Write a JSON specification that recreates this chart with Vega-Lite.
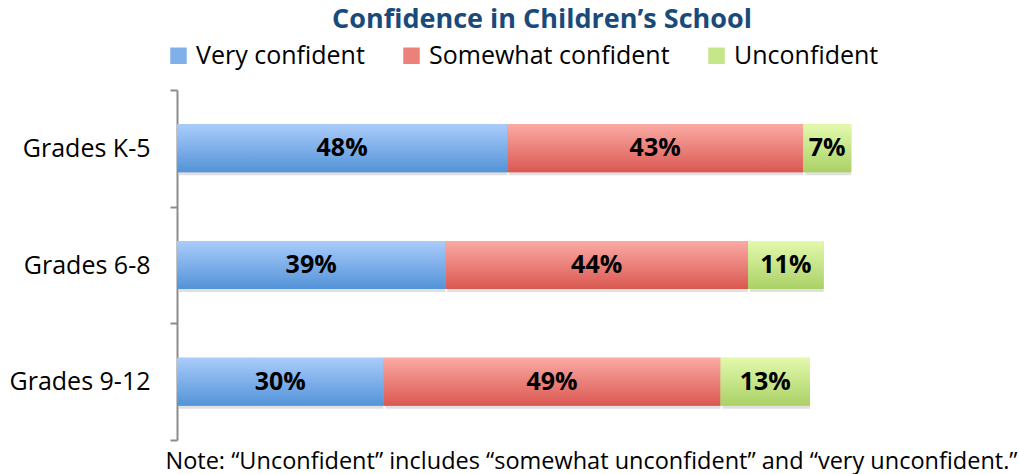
{
  "$schema": "https://vega.github.io/schema/vega-lite/v6.json",
  "width": 688,
  "height": 350,
  "autosize": {"type": "none"},
  "padding": {"left": 177, "top": 90, "right": 154, "bottom": 34},
  "config": {"font": "Open Sans", "view": {"stroke": null}},
  "title": {"text": "Confidence in Children’s School", "fontSize": 27, "fontWeight": "bold", "color": "#1A4A7A", "anchor": "middle", "dx": 21, "frame": "group", "offset": 9},
  "data": {"values": [
    {"grade": "Grades K-5", "category": "Very confident", "value": 48},
    {"grade": "Grades K-5", "category": "Somewhat confident", "value": 43},
    {"grade": "Grades K-5", "category": "Unconfident", "value": 7},
    {"grade": "Grades 6-8", "category": "Very confident", "value": 39},
    {"grade": "Grades 6-8", "category": "Somewhat confident", "value": 44},
    {"grade": "Grades 6-8", "category": "Unconfident", "value": 11},
    {"grade": "Grades 9-12", "category": "Very confident", "value": 30},
    {"grade": "Grades 9-12", "category": "Somewhat confident", "value": 49},
    {"grade": "Grades 9-12", "category": "Unconfident", "value": 13}
  ]},
  "transform": [
    {"calculate": "indexof(['Very confident','Somewhat confident','Unconfident'], datum.category)", "as": "ord"},
    {"stack": "value", "groupby": ["grade"], "sort": [{"field": "ord", "order": "ascending"}], "as": ["v0", "v1"]},
    {"calculate": "(datum.v0 + datum.v1) / 2", "as": "mid"},
    {"calculate": "datum.value + '%'", "as": "label"}
  ],
  "encoding": {
    "y": {"field": "grade", "type": "nominal", "sort": ["Grades K-5", "Grades 6-8", "Grades 9-12"],
      "scale": {"paddingInner": 0, "paddingOuter": 0},
      "axis": {"title": null, "labelFontSize": 25, "labelColor": "#000", "labelPadding": 20, "domainColor": "#8c8c8c", "domainWidth": 2, "tickColor": "#8c8c8c", "tickWidth": 2, "tickSize": 7, "tickBand": "extent"}}
  },
  "layer": [
    {
      "mark": {"type": "bar", "color": "#000", "opacity": 0.12, "yOffset": 3, "xOffset": 2, "height": {"band": 0.411}},
      "encoding": {
        "x": {"field": "v0", "type": "quantitative", "scale": {"domain": [0, 100]}},
        "x2": {"field": "v1"}
      }
    },
    {
      "mark": {"type": "bar", "height": {"band": 0.411}},
      "encoding": {
        "x": {"field": "v0", "type": "quantitative", "scale": {"domain": [0, 100]},
          "axis": {"labels": false, "ticks": false, "domain": false, "grid": false,
            "title": "Note: “Unconfident” includes “somewhat unconfident” and “very unconfident.”",
            "titleFontSize": 23.5, "titleFontWeight": "normal", "titleColor": "#000", "titleAlign": "center", "titleX": 414, "titleY": 28, "titleBaseline": "alphabetic"}},
        "x2": {"field": "v1"},
        "color": {"field": "category", "type": "nominal",
          "scale": {"domain": ["Very confident", "Somewhat confident", "Unconfident"],
            "range": ["#7FB0EA", "#EC817B", "#C6E68A"]},
          "legend": {"orient": "none", "legendX": -11, "legendY": -47, "direction": "horizontal", "title": null,
            "symbolType": "square", "symbolSize": 272, "symbolStrokeWidth": 0, "symbolOpacity": 1, "labelFontSize": 25, "labelColor": "#000", "labelOffset": 5, "labelLimit": 400, "columnPadding": 34,
            "encode": {"symbols": {"update": {"fill": {"signal": "datum.value === 'Very confident' ? {gradient: 'linear', x1: 0, y1: 0, x2: 0, y2: 1, stops: [{offset: 0, color: '#AACCFB'}, {offset: 1, color: '#5393D8'}]} : datum.value === 'Somewhat confident' ? {gradient: 'linear', x1: 0, y1: 0, x2: 0, y2: 1, stops: [{offset: 0, color: '#FBAAA4'}, {offset: 1, color: '#DA5851'}]} : {gradient: 'linear', x1: 0, y1: 0, x2: 0, y2: 1, stops: [{offset: 0, color: '#E3F9AC'}, {offset: 1, color: '#AAD166'}]}"}}}}}}
      }
    },
    {
      "mark": {"type": "bar", "height": {"band": 0.411}},
      "encoding": {
        "x": {"field": "v0", "type": "quantitative", "scale": {"domain": [0, 100]}},
        "x2": {"field": "v1"},
        "color": {
          "condition": [
            {"test": "datum.category === 'Very confident'", "value": {"gradient": "linear", "x1": 0, "y1": 0, "x2": 0, "y2": 1, "stops": [{"offset": 0, "color": "#AACCFB"}, {"offset": 1, "color": "#5393D8"}]}},
            {"test": "datum.category === 'Somewhat confident'", "value": {"gradient": "linear", "x1": 0, "y1": 0, "x2": 0, "y2": 1, "stops": [{"offset": 0, "color": "#FBAAA4"}, {"offset": 1, "color": "#DA5851"}]}}
          ],
          "value": {"gradient": "linear", "x1": 0, "y1": 0, "x2": 0, "y2": 1, "stops": [{"offset": 0, "color": "#E3F9AC"}, {"offset": 1, "color": "#AAD166"}]}
        }
      }
    },
    {
      "mark": {"type": "text", "fontSize": 25, "fontWeight": "bold", "color": "#000", "baseline": "middle"},
      "encoding": {
        "x": {"field": "mid", "type": "quantitative", "scale": {"domain": [0, 100]}},
        "text": {"field": "label"}
      }
    }
  ]
}
